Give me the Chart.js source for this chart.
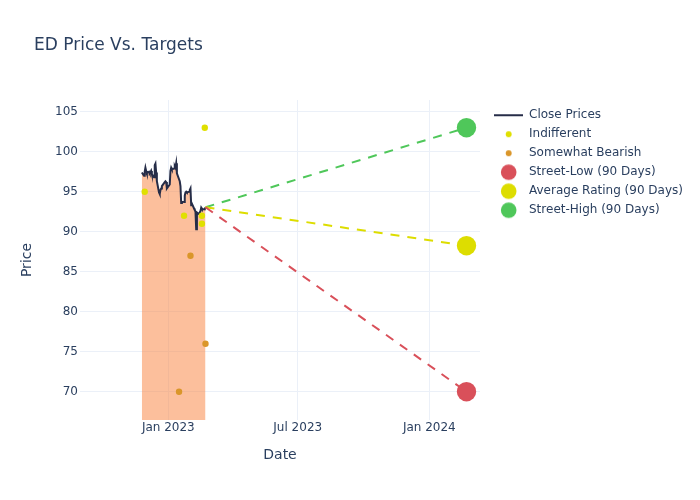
<!DOCTYPE html>
<html>
<head>
<meta charset="utf-8">
<script src="https://cdn.jsdelivr.net/npm/chart.js@4.4.0/dist/chart.umd.min.js"></script>
<style>
html,body{margin:0;padding:0;background:#fff;overflow:hidden;}
#wrap{width:700px;height:500px;position:relative;overflow:hidden;}
#wrap canvas{display:block;}
</style>
</head>
<body>
<div id="wrap"><canvas id="c"></canvas></div>
<script>
// ---------- data ----------
const closeDates = [
  '2022-11-25','2022-11-28','2022-11-29','2022-11-30',
  '2022-12-01','2022-12-02','2022-12-05','2022-12-06','2022-12-07','2022-12-08','2022-12-09',
  '2022-12-12','2022-12-13','2022-12-14','2022-12-15','2022-12-16','2022-12-19','2022-12-20',
  '2022-12-21','2022-12-22','2022-12-23','2022-12-27','2022-12-28','2022-12-29','2022-12-30',
  '2023-01-03','2023-01-04','2023-01-05','2023-01-06','2023-01-09','2023-01-10','2023-01-11',
  '2023-01-12','2023-01-13','2023-01-17','2023-01-18','2023-01-19','2023-01-20','2023-01-23',
  '2023-01-24','2023-01-25','2023-01-26','2023-01-27','2023-01-30','2023-01-31',
  '2023-02-01','2023-02-02','2023-02-03','2023-02-06','2023-02-07','2023-02-08','2023-02-09',
  '2023-02-10','2023-02-13','2023-02-14','2023-02-15','2023-02-16','2023-02-17','2023-02-21',
  '2023-02-22'
];
const closePrices = [
  97.4, 97.0, 97.5, 98.0,
  97.6, 97.3, 97.5, 97.3, 97.4, 97.6, 97.2,
  96.8, 98.3, 98.5, 97.4, 96.3, 94.9, 94.7,
  95.2, 95.4, 95.7, 96.2, 96.3, 96.2, 95.4,
  95.9, 97.6, 98.0, 97.8, 97.9, 98.2, 98.0,
  98.55, 97.3, 96.3, 95.7, 93.6, 93.8, 93.7,
  94.5, 94.9, 95.0, 94.9, 95.0, 95.2,
  95.4, 93.3, 93.5, 92.9, 92.7, 92.5, 90.3,
  92.4, 92.2, 92.4, 92.6, 93.0, 92.85, 92.8,
  93.05
];
const indifferentDates = ['2022-11-29','2023-01-23','2023-02-17','2023-02-17','2023-02-21'];
const indifferentTargets = [95, 92, 92, 91, 103];
const bearishDates = ['2023-01-16','2023-02-01','2023-02-22'];
const bearishTargets = [70, 87, 76];
const targetDate = '2024-02-22';
const streetLow = 70;
const averageRating = 88.25;
const streetHigh = 103;
const yTickValues = [70, 75, 80, 85, 90, 95, 100, 105];
const xTickDates = ['2023-01-01', '2023-07-01', '2024-01-01'];
const xTickLabels = ['Jan 2023', 'Jul 2023', 'Jan 2024'];
const xRange = ['2022-08-30T12:00:00Z', '2024-03-11T21:00:00Z'];
const yRange = [66.46, 106.46];

// ---------- helpers ----------
const EPOCH = Date.UTC(2023, 0, 1);
const day = s => (Date.parse(s.length === 10 ? s + 'T00:00:00Z' : s) - EPOCH) / 86400000;
const pts = (ds, vs) => ds.map((d, i) => ({x: day(d), y: vs[i]}));

const FONT = 'DejaVu Sans';
const TXT = '#2a3f5f';
const GRID = '#EBF0F8';
const C_LINE = '#262d48';
const C_FILL = 'rgba(249,127,57,0.5)';
const C_IND = '#e0e000';
const C_BEAR = '#da962a';
const C_LOW = '#d9505a';
const C_AVG = '#dddd00';
const C_HIGH = '#4fc75a';

const lastX = day(closeDates[closeDates.length - 1]);
const lastY = closePrices[closePrices.length - 1];
const tX = day(targetDate);

function icon(kind, color, r) {
  const c = document.createElement('canvas');
  c.width = 36; c.height = 20;
  const g = c.getContext('2d');
  if (kind === 'line') {
    g.strokeStyle = color; g.lineWidth = 2;
    g.beginPath(); g.moveTo(7, 10); g.lineTo(36, 10); g.stroke();
  } else {
    g.fillStyle = color;
    g.beginPath(); g.arc(21.7, 10, r, 0, Math.PI * 2); g.fill();
  }
  return c;
}

const legendDefs = [
  {text: 'Close Prices', kind: 'line', color: C_LINE, r: 0},
  {text: 'Indifferent', kind: 'dot', color: C_IND, r: 3},
  {text: 'Somewhat Bearish', kind: 'dot', color: C_BEAR, r: 3},
  {text: 'Street-Low (90 Days)', kind: 'dot', color: C_LOW, r: 7.8},
  {text: 'Average Rating (90 Days)', kind: 'dot', color: C_AVG, r: 7.8},
  {text: 'Street-High (90 Days)', kind: 'dot', color: C_HIGH, r: 7.8}
];

// measure legend text to place plot right edge at 480
const mctx = document.createElement('canvas').getContext('2d');
mctx.font = '12px "' + FONT + '"';
const tw = Math.max(...legendDefs.map(d => mctx.measureText(d.text).width));
const legendW = 7 + 36 + 6 + tw + 10;
const padRight = Math.max(0, 220 - legendW);

const shiftTitle = {
  id: 'shiftTitle',
  afterLayout(chart) {
    const t = chart.titleBlock;
    if (t) { t.left = 34; }
  }
};

const datasets = [
  {label: 'Close Prices', data: pts(closeDates, closePrices), showLine: true,
   borderColor: C_LINE, borderWidth: 2, backgroundColor: C_FILL, fill: 'start',
   pointRadius: 0, tension: 0, order: 10},
  {label: 'lowLine', data: [{x: lastX, y: lastY}, {x: tX, y: streetLow}], showLine: true,
   borderColor: C_LOW, borderWidth: 2, borderDash: [9, 8], pointRadius: 0, fill: false, order: 5},
  {label: 'avgLine', data: [{x: lastX, y: lastY}, {x: tX, y: averageRating}], showLine: true,
   borderColor: C_AVG, borderWidth: 2, borderDash: [9, 8], pointRadius: 0, fill: false, order: 5},
  {label: 'highLine', data: [{x: lastX, y: lastY}, {x: tX, y: streetHigh}], showLine: true,
   borderColor: C_HIGH, borderWidth: 2, borderDash: [9, 8], pointRadius: 0, fill: false, order: 5},
  {label: 'Indifferent', data: pts(indifferentDates, indifferentTargets), showLine: false,
   pointRadius: 3.2, pointBackgroundColor: C_IND, pointBorderWidth: 0, order: 1},
  {label: 'Somewhat Bearish', data: pts(bearishDates, bearishTargets), showLine: false,
   pointRadius: 3.2, pointBackgroundColor: C_BEAR, pointBorderWidth: 0, order: 1},
  {label: 'Street-Low (90 Days)', data: [{x: tX, y: streetLow}], showLine: false,
   pointRadius: 9.7, pointBackgroundColor: C_LOW, pointBorderWidth: 0, order: 0},
  {label: 'Average Rating (90 Days)', data: [{x: tX, y: averageRating}], showLine: false,
   pointRadius: 9.7, pointBackgroundColor: C_AVG, pointBorderWidth: 0, order: 0},
  {label: 'Street-High (90 Days)', data: [{x: tX, y: streetHigh}], showLine: false,
   pointRadius: 9.7, pointBackgroundColor: C_HIGH, pointBorderWidth: 0, order: 0}
];

new Chart(document.getElementById('c'), {
  type: 'scatter',
  data: {datasets},
  plugins: [shiftTitle],
  options: {
    responsive: true,
    maintainAspectRatio: false,
    animation: false,
    layout: {padding: {left: 0, top: 0, bottom: 0, right: padRight}},
    plugins: {
      tooltip: {enabled: false},
      title: {
        display: true, text: 'ED Price Vs. Targets', align: 'start',
        color: TXT, font: {family: FONT, size: 17, weight: 'normal'},
        padding: {top: 35.5, bottom: 44.1}
      },
      legend: {
        display: true, position: 'right', align: 'start', fullSize: false,
        maxWidth: 240,
        title: {display: true, text: ' ', font: {size: 1}, padding: {top: 1, bottom: 0}},
        labels: {
          usePointStyle: true, pointStyleWidth: 36, padding: 7,
          color: TXT, font: {family: FONT, size: 12},
          generateLabels: () => legendDefs.map(d => ({
            text: d.text, pointStyle: icon(d.kind, d.color, d.r),
            fillStyle: d.color, strokeStyle: d.color, lineWidth: 0, hidden: false, fontColor: TXT
          }))
        },
        onClick: () => {}
      }
    },
    scales: {
      x: {
        type: 'linear', bounds: 'data', min: day(xRange[0]), max: day(xRange[1]),
        afterBuildTicks: s => { s.ticks = xTickDates.map(d => ({value: day(d)})); },
        afterFit: s => { s.height = 80; },
        ticks: {
          autoSkip: false, maxRotation: 0, padding: 1, color: TXT,
          font: {family: FONT, size: 12},
          callback: (v, i) => xTickLabels[i]
        },
        grid: {color: GRID, lineWidth: 1, drawTicks: false},
        border: {display: false},
        title: {display: true, text: 'Date', color: TXT, font: {family: FONT, size: 14},
                padding: {top: 0, bottom: 36}}
      },
      y: {
        type: 'linear', bounds: 'data', min: yRange[0], max: yRange[1],
        afterBuildTicks: s => { s.ticks = yTickValues.map(v => ({value: v})); },
        afterFit: s => { s.width = 80; },
        ticks: {padding: 2, color: TXT, font: {family: FONT, size: 12}},
        grid: {color: GRID, lineWidth: 1, drawTicks: false},
        border: {display: false},
        title: {display: true, text: 'Price', color: TXT, font: {family: FONT, size: 14},
                padding: {top: 18.6, bottom: 0}}
      }
    }
  }
});
</script>
</body>
</html>
